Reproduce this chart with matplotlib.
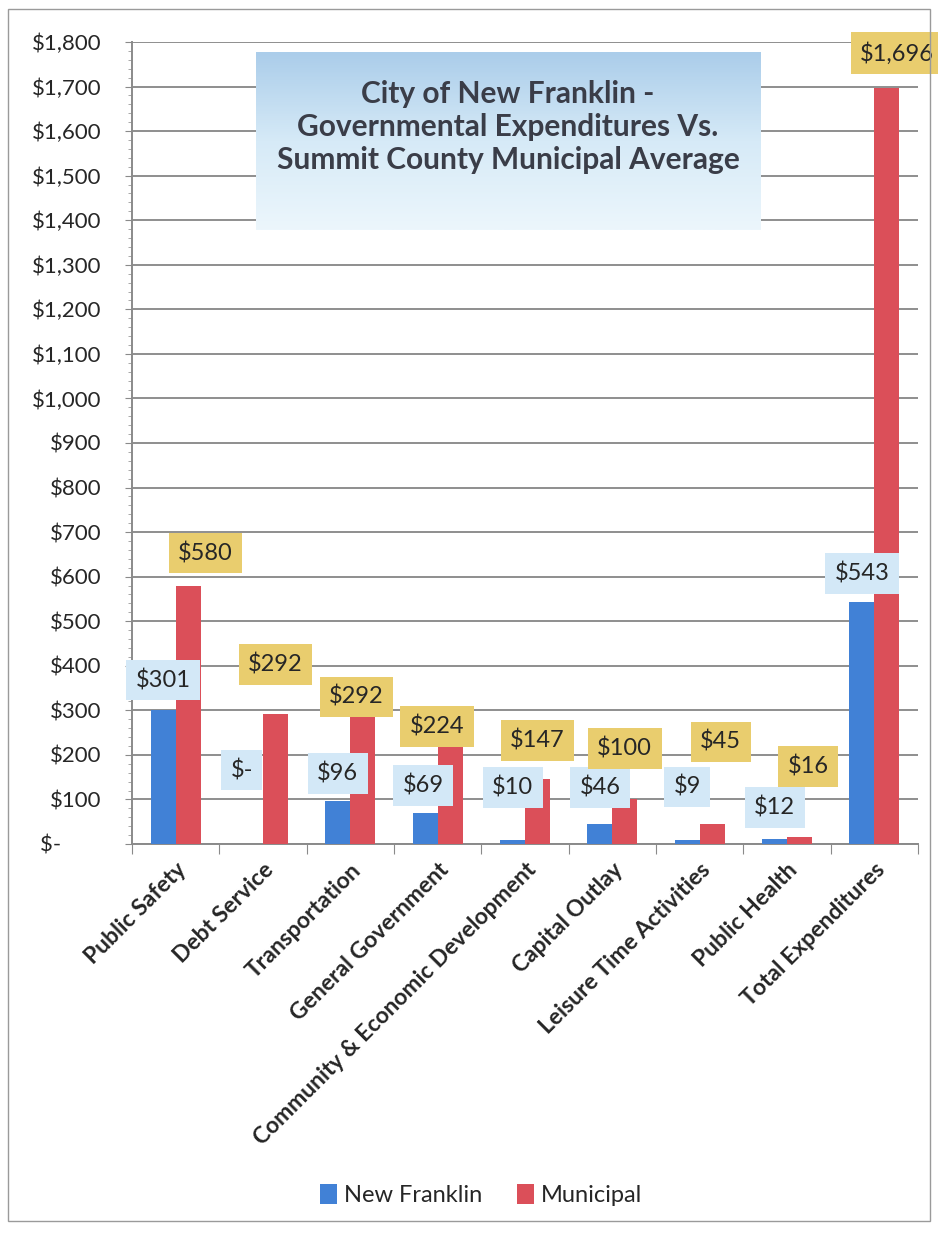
import matplotlib
matplotlib.use("Agg")
import matplotlib.pyplot as plt
import numpy as np
from matplotlib.patches import Rectangle
from matplotlib.ticker import MultipleLocator, FuncFormatter
from matplotlib.colors import LinearSegmentedColormap

categories = ["Public Safety", "Debt Service", "Transportation", "General Government",
              "Community & Economic Development", "Capital Outlay", "Leisure Time Activities",
              "Public Health", "Total Expenditures"]
new_franklin = [301, 0, 96, 69, 10, 46, 9, 12, 543]
municipal = [580, 292, 292, 224, 147, 100, 45, 16, 1696]
nf_labels = ["$301", "$-", "$96", "$69", "$10", "$46", "$9", "$12", "$543"]
mu_labels = ["$580", "$292", "$292", "$224", "$147", "$100", "$45", "$16", "$1,696"]
yticks = list(range(0, 1900, 100))

# label placement (data units) and horizontal nudges
nf_label_y = [368, 166, 159, 132, 126, 126, 128, 81, 608]
mu_label_y = [653, 402, 330, 263, 233, 215, 229, 173, 1775]
mu_label_dx = [0.2, 0.0, -0.07, -0.15, 0.0, 0.0, 0.1, 0.1, 0.12]
nf_label_dx = [0.0, -0.1, 0.0, -0.02, 0.0, 0.0, 0.0, 0.0, 0.0]

plt.rcParams['font.family'] = ['Lato', 'DejaVu Sans']
BLUE = "#4181d6"
RED = "#db4f59"
TXT = "#262626"

fig = plt.figure(figsize=(9.38, 12.35), dpi=100)
fig.patches.append(Rectangle((0.009, 0.011), 0.982, 0.982, transform=fig.transFigure,
                             fill=False, edgecolor="#9a9a9a", linewidth=1.0))
ax = fig.add_axes([0.1407, 0.3166, 0.838, 0.6494])

x = np.arange(len(categories))
w = 0.285
ax.bar(x - w / 2, new_franklin, w, color=BLUE, label="New Franklin", zorder=3)
ax.bar(x + w / 2, municipal, w, color=RED, label="Municipal", zorder=3)

ax.set_xlim(-0.5, len(categories) - 0.5)
ax.set_ylim(0, 1800)
ax.set_yticks(yticks)
ax.yaxis.set_major_formatter(FuncFormatter(
    lambda v, p: "$-" + " " * 7 if v == 0 else "${:,.0f}".format(v)))
ax.yaxis.set_minor_locator(MultipleLocator(20))
ax.tick_params(axis='y', which='major', labelsize=16, length=5, color="#8a8a8a", pad=17,
               labelcolor=TXT)
ax.tick_params(axis='y', which='minor', length=3, color="#9a9a9a")
ax.grid(axis='y', color="#8e8e8e", linewidth=1.4, zorder=0)

ax.set_xticks(np.arange(-0.5, len(categories), 1.0), minor=False)
ax.set_xticklabels([])
ax.set_xticks(x, minor=True)
ax.set_xticklabels(categories, minor=True, rotation=45, ha="right", rotation_mode="anchor",
                   fontsize=16.5, fontweight="bold", color=TXT)
ax.tick_params(axis='x', which='major', length=7, color="#8a8a8a", direction="out")
ax.tick_params(axis='x', which='minor', length=0, pad=11)

for s in ["top", "right"]:
    ax.spines[s].set_visible(False)
for s in ["left", "bottom"]:
    ax.spines[s].set_color("#8a8a8a")
    ax.spines[s].set_linewidth(1.4)

for i in range(len(categories)):
    ax.text(x[i] - w / 2 + nf_label_dx[i], nf_label_y[i], nf_labels[i], ha="center", va="center",
            fontsize=17, color=TXT, zorder=5,
            bbox=dict(boxstyle="square,pad=0.4", facecolor="#d3e8f7", edgecolor="none"))
    ax.text(x[i] + w / 2 + mu_label_dx[i], mu_label_y[i], mu_labels[i], ha="center", va="center",
            fontsize=17, color=TXT, zorder=5,
            bbox=dict(boxstyle="square,pad=0.4", facecolor="#e9cd6e", edgecolor="none"))

# title box with gradient
tax = fig.add_axes([256 / 938, 1 - 230 / 1235, (760 - 256) / 938, (230 - 52) / 1235])
grad = np.linspace(0, 1, 100).reshape(-1, 1)
cmap = LinearSegmentedColormap.from_list("tb", ["#abcdea", "#d6eaf7", "#ecf6fc"])
tax.imshow(grad, aspect="auto", cmap=cmap, extent=[0, 1, 0, 1], origin="upper")
tax.set_axis_off()
tax.text(0.5, 0.58, "City of New Franklin -\nGovernmental Expenditures Vs.\nSummit County Municipal Average",
         ha="center", va="center", fontsize=21.5, fontweight="bold", color="#3a3d48",
         linespacing=1.22, transform=tax.transAxes)

fig.legend(loc="center", bbox_to_anchor=(0.513, 1 - 1195 / 1235), ncol=2, frameon=False,
           fontsize=17, handlelength=0.7, handleheight=0.9, handletextpad=0.3,
           columnspacing=1.5, labelcolor=TXT)

fig.savefig("out.png", dpi=100, facecolor="white")
